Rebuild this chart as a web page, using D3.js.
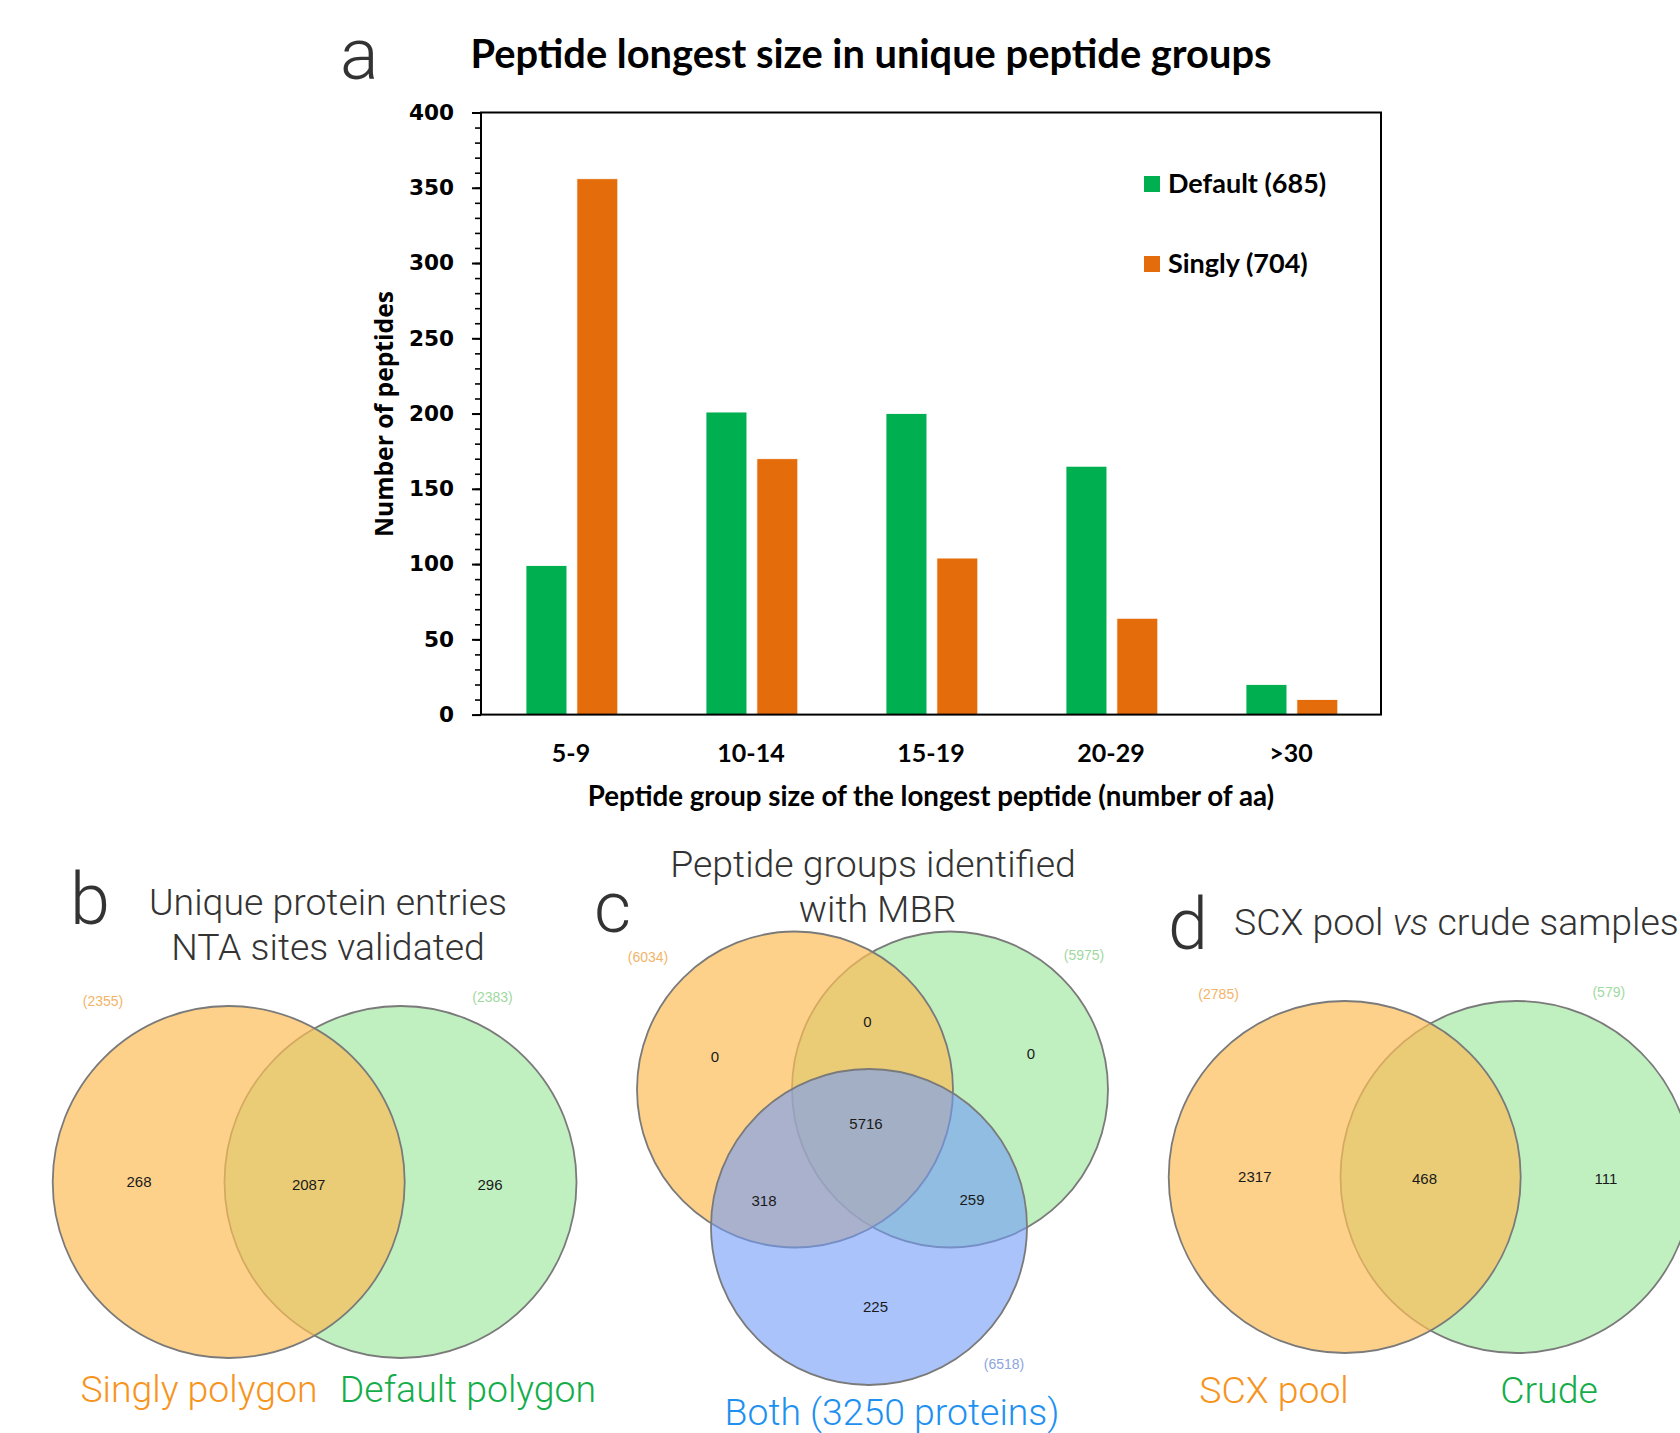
<!DOCTYPE html>
<html>
<head>
<meta charset="utf-8">
<script src="https://cdn.jsdelivr.net/npm/d3@7"></script>
<style>
  body { margin: 0; background: #fff; }
  svg { display: block; }
</style>
</head>
<body>
<svg id="fig" width="1680" height="1433"></svg>
<script>
// --- panel a: bar chart data ---
const categories = ["5-9", "10-14", "15-19", "20-29", ">30"];
const seriesNames = ["Default (685)", "Singly (704)"];
const defaultValues = [99, 201, 200, 165, 20];
const singlyValues = [356, 170, 104, 64, 10];
const yTicks = [0, 50, 100, 150, 200, 250, 300, 350, 400];

// --- panel b, c, d: venn counts ---
const vennBNames = ["Singly polygon", "Default polygon"];
const vennBTotals = [2355, 2383];
const vennBCounts = [268, 2087, 296];          // only A, A∩B, only B
const vennCName = "Both (3250 proteins)";
const vennCTotals = [6034, 5975, 6518];
const vennCCounts = [0, 0, 0, 5716, 318, 259, 225]; // A, AB, B, ABC, AC, BC, C
const vennDNames = ["SCX pool", "Crude"];
const vennDTotals = [2785, 579];
const vennDCounts = [2317, 468, 111];

const svg = d3.select('#fig');
const green = '#00b050', orange = '#e46c0a';
const light = 'Roboto, sans-serif';

// ===== panel a =====
const plot = { left: 481, right: 1381, top: 112.5, bottom: 714.6 };
const x = d3.scaleBand().domain(categories).range([plot.left, plot.right]);
const xInner = d3.scaleBand().domain([0, 1])
  .range([x.bandwidth() * 0.25, x.bandwidth() * 0.76]).paddingInner(0.196);
const y = d3.scaleLinear().domain([0, 400]).range([plot.bottom, plot.top]);
const colors = [green, orange];

const rows = categories.map((c, i) => ({ cat: c, vals: [defaultValues[i], singlyValues[i]] }));

svg.append('g').selectAll('g').data(rows).join('g')
  .attr('transform', d => `translate(${x(d.cat)},0)`)
  .selectAll('rect').data(d => d.vals).join('rect')
  .attr('x', (d, i) => xInner(i))
  .attr('width', xInner.bandwidth())
  .attr('y', d => y(d))
  .attr('height', d => y(0) - y(d))
  .attr('fill', (d, i) => colors[i])
  .attr('stroke', '#fff').attr('stroke-width', 0.8);

// frame
svg.append('rect')
  .attr('x', plot.left).attr('y', plot.top)
  .attr('width', plot.right - plot.left).attr('height', plot.bottom - plot.top)
  .attr('fill', 'none').attr('stroke', '#000').attr('stroke-width', 2);

// minor ticks
const minor = svg.append('g').attr('transform', `translate(${plot.left},0)`)
  .call(d3.axisLeft(y).tickValues(d3.range(0, 401, 10)).tickSize(6).tickFormat(''));
minor.select('.domain').remove();
minor.selectAll('line').attr('stroke-width', 1.6);

// major ticks + labels
const yAxis = svg.append('g').attr('transform', `translate(${plot.left},0)`)
  .call(d3.axisLeft(y).tickValues(yTicks).tickSize(9).tickPadding(18));
yAxis.select('.domain').remove();
yAxis.selectAll('line').attr('stroke-width', 2);
yAxis.selectAll('text')
  .attr('font-family', '"DejaVu Sans", sans-serif')
  .attr('font-weight', 'bold').attr('font-size', 21.6).attr('fill', '#000');

const xAxis = svg.append('g').attr('transform', `translate(0,${plot.bottom})`)
  .call(d3.axisBottom(x).tickSize(0).tickPadding(30));
xAxis.select('.domain').remove();
xAxis.selectAll('text')
  .attr('font-family', 'Lato, sans-serif')
  .attr('font-weight', 'bold').attr('font-size', 25).attr('fill', '#000');

svg.append('text')
  .attr('x', (plot.left + plot.right) / 2).attr('y', 806)
  .attr('text-anchor', 'middle')
  .attr('font-family', 'Lato, sans-serif').attr('font-weight', 'bold').attr('font-size', 27.7)
  .text('Peptide group size of the longest peptide (number of aa)');

svg.append('text')
  .attr('transform', 'translate(393,414) rotate(-90)')
  .attr('text-anchor', 'middle')
  .attr('font-family', '"Open Sans", sans-serif').attr('font-weight', 'bold').attr('font-size', 24.7)
  .text('Number of peptides');

svg.append('text')
  .attr('x', 871).attr('y', 68).attr('text-anchor', 'middle')
  .attr('font-family', 'Lato, sans-serif').attr('font-weight', 'bold').attr('font-size', 39.8)
  .text('Peptide longest size in unique peptide groups');

// legend
const legend = svg.append('g').selectAll('g').data(seriesNames).join('g')
  .attr('transform', (d, i) => `translate(1144,${176 + i * 80})`);
legend.append('rect').attr('width', 16).attr('height', 16).attr('fill', (d, i) => colors[i]);
legend.append('text').attr('x', 24).attr('y', 17)
  .attr('font-family', 'Lato, sans-serif').attr('font-weight', 'bold').attr('font-size', 27)
  .text(d => d);

// panel letters
const letters = [['a', 340, 79], ['b', 70, 924], ['c', 594, 932], ['d', 1168, 949]];
svg.append('g').selectAll('text').data(letters).join('text')
  .attr('x', d => d[1]).attr('y', d => d[2])
  .attr('font-family', light).attr('font-weight', 300).attr('font-size', 72).attr('fill', '#333')
  .text(d => d[0]);

// ===== venn helpers =====
const fills = [
  { fill: '#c0efc0', op: 1 },     // green
  { fill: '#fcbd59', op: 0.7 },   // orange
  { fill: '#719bf8', op: 0.6 }    // blue
];
function circle(g, cx, cy, r, f) {
  g.append('circle').attr('cx', cx).attr('cy', cy).attr('r', r)
    .attr('fill', f.fill).attr('fill-opacity', f.op)
    .attr('stroke', '#7a7a7a').attr('stroke-width', 1.8);
}
function count(g, cx, cy, v) {
  g.append('text').attr('x', cx).attr('y', cy).attr('dy', '0.35em')
    .attr('text-anchor', 'middle')
    .attr('font-family', '"Liberation Sans", Arial, sans-serif').attr('font-size', 15)
    .attr('fill', '#1a1a1a').text(v);
}
function total(g, cx, cy, v, col) {
  g.append('text').attr('x', cx).attr('y', cy).attr('dy', '0.35em')
    .attr('text-anchor', 'middle')
    .attr('font-family', '"Liberation Sans", Arial, sans-serif').attr('font-size', 14)
    .attr('fill', col).text(`(${v})`);
}
function label(g, cx, cy, txt, col, anchor) {
  return g.append('text').attr('x', cx).attr('y', cy)
    .attr('text-anchor', anchor || 'middle')
    .attr('font-family', light).attr('font-weight', 300).attr('font-size', 37.4)
    .attr('fill', col).text(txt);
}
const totOrange = '#f2b468', totGreen = '#9fd99f', totBlue = '#8ea4de';
const labOrange = '#f7941d', labGreen = '#14ad4a', labBlue = '#1e90f0';

// ===== panel b =====
const gb = svg.append('g');
circle(gb, 400.5, 1182, 176, fills[0]);
circle(gb, 228.7, 1182, 176, fills[1]);
count(gb, 139, 1182, vennBCounts[0]);
count(gb, 308.6, 1184.5, vennBCounts[1]);
count(gb, 490, 1184.5, vennBCounts[2]);
total(gb, 103, 1001, vennBTotals[0], totOrange);
total(gb, 492.5, 997.5, vennBTotals[1], totGreen);
label(gb, 328, 915, 'Unique protein entries', '#333');
label(gb, 328, 960, 'NTA sites validated', '#333');
label(gb, 199, 1402, vennBNames[0], labOrange);
label(gb, 468, 1402, vennBNames[1], labGreen);

// ===== panel c =====
const gc = svg.append('g');
circle(gc, 950, 1089.5, 158, fills[0]);
circle(gc, 795, 1089.5, 158, fills[1]);
circle(gc, 869, 1227, 158, fills[2]);
const cPos = [[715, 1056.5], [867.5, 1021.5], [1031, 1054], [866, 1124],
              [764, 1200.5], [972, 1200], [875.5, 1306.5]];
vennCCounts.forEach((v, i) => count(gc, cPos[i][0], cPos[i][1], v));
total(gc, 648, 957, vennCTotals[0], totOrange);
total(gc, 1084, 955, vennCTotals[1], totGreen);
total(gc, 1004, 1364, vennCTotals[2], totBlue);
label(gc, 873, 876.5, 'Peptide groups identified', '#333');
label(gc, 877.5, 921.5, 'with MBR', '#333');
label(gc, 892, 1425, vennCName, labBlue);

// ===== panel d =====
const gd = svg.append('g');
circle(gd, 1516.5, 1177, 176, fills[0]);
circle(gd, 1344.7, 1177, 176, fills[1]);
count(gd, 1254.8, 1176.7, vennDCounts[0]);
count(gd, 1424.5, 1179, vennDCounts[1]);
count(gd, 1606, 1179, vennDCounts[2]);
total(gd, 1218.6, 994.3, vennDTotals[0], totOrange);
total(gd, 1608.8, 991.7, vennDTotals[1], totGreen);
const dt = label(gd, 1234, 935, null, '#333', 'start');
dt.append('tspan').text('SCX pool ');
dt.append('tspan').attr('font-style', 'italic').text('vs');
dt.append('tspan').text(' crude samples');
label(gd, 1274, 1403, vennDNames[0], labOrange);
label(gd, 1549, 1403, vennDNames[1], labGreen);
</script>
</body>
</html>
